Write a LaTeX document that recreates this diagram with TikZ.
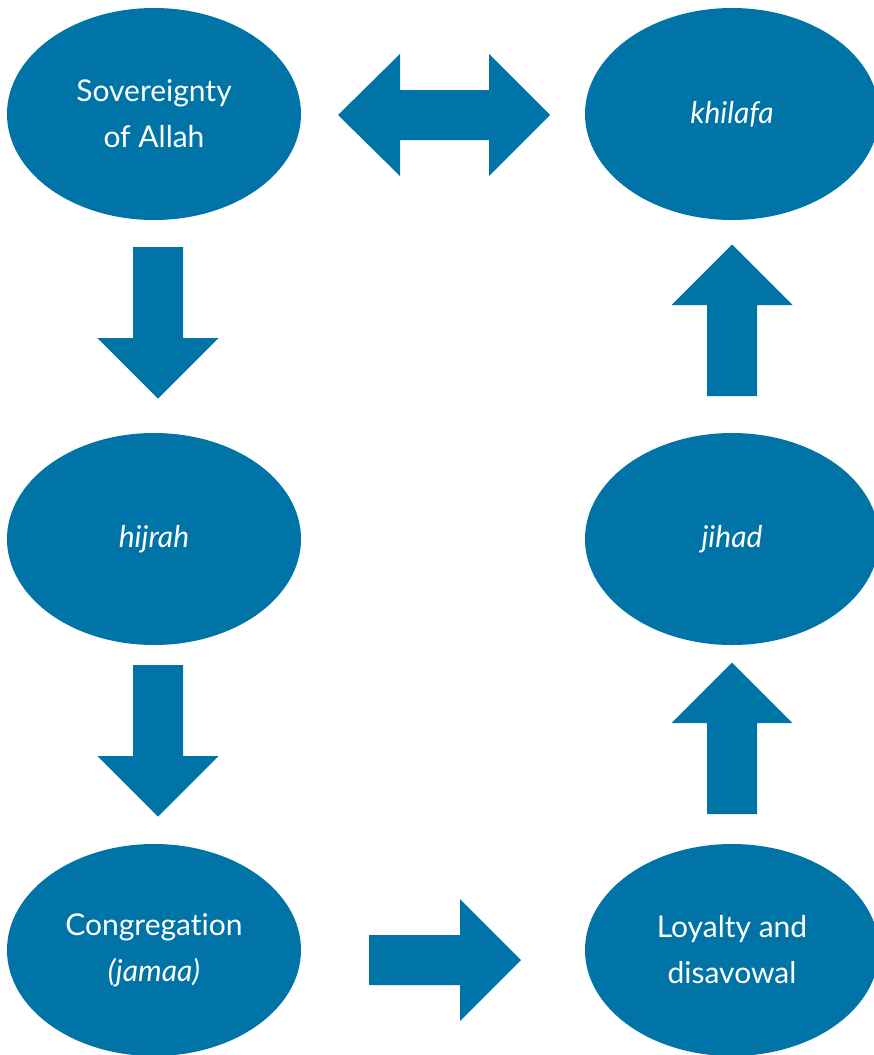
\documentclass[tikz,border=0pt]{standalone}
\usepackage{fontspec}
\setmainfont{Lato}[Ligatures=NoCommon]
\usetikzlibrary{shapes.geometric}
\definecolor{blk}{HTML}{0073A7}
\begin{document}
\begin{tikzpicture}[x=1pt,y=-1pt,
  stage/.style={ellipse, fill=blk, draw=none, minimum width=294pt, minimum height=212pt, inner sep=0pt,
    text=white, align=center, font=\fontsize{30}{46}\selectfont},
  blockarrow/.style={fill=blk, draw=none}]
\useasboundingbox (0,0) rectangle (874,1055);
\node[stage] (sov) at (154,114) {Sovereignty\\of Allah};
\node[stage] (khi) at (732,114) {\itshape khilafa};
\node[stage] (hij) at (154,539) {\itshape hijrah};
\node[stage] (jih) at (732,539) {\itshape jihad};
\node[stage] (con) at (154,950) {Congregation\\\textit{(jamaa)}};
\node[stage] (loy) at (732,950) {Loyalty and\\disavowal};
% double arrow sov <-> khi
\fill[blockarrow] (338,115) -- (400,54) -- (400,90) -- (489,90) -- (489,54) -- (550,115)
  -- (489,176) -- (489,140) -- (400,140) -- (400,176) -- cycle;
% sov -> hij
\fill[blockarrow] (133,247) -- (183,247) -- (183,338) -- (218.5,338) -- (158,398.5)
  -- (97.5,338) -- (133,338) -- cycle;
% hij -> con
\fill[blockarrow] (133,665) -- (183,665) -- (183,756) -- (218.5,756) -- (158,816.5)
  -- (97.5,756) -- (133,756) -- cycle;
% con -> loy
\fill[blockarrow] (369,935) -- (460,935) -- (460,899) -- (521,960) -- (460,1021)
  -- (460,985) -- (369,985) -- cycle;
% loy -> jih
\fill[blockarrow] (707,814) -- (757,814) -- (757,723) -- (792.5,723) -- (732,662.5)
  -- (671.5,723) -- (707,723) -- cycle;
% jih -> khi
\fill[blockarrow] (707,396) -- (757,396) -- (757,305) -- (792.5,305) -- (732,244.5)
  -- (671.5,305) -- (707,305) -- cycle;
\end{tikzpicture}
\end{document}
